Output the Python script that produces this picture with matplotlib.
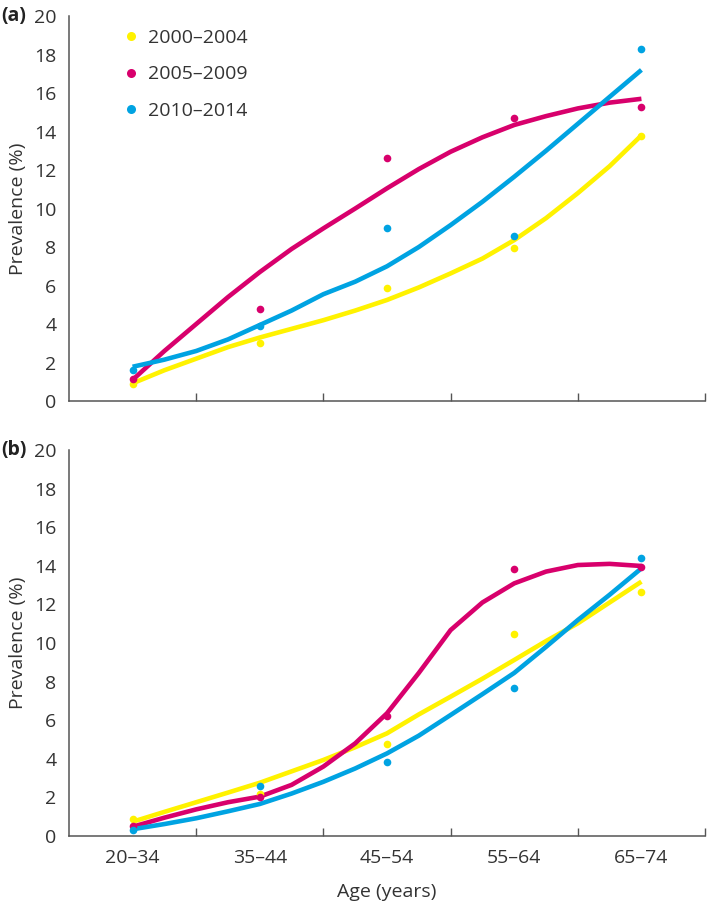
import matplotlib
matplotlib.use("Agg")
import matplotlib.pyplot as plt
from matplotlib.lines import Line2D

plt.rcParams['font.family'] = ['Open Sans', 'DejaVu Sans']

age_groups = ['20–34', '35–44', '45–54', '55–64', '65–74']
periods = ['2000–2004', '2005–2009', '2010–2014']
colors = ['#FFF200', '#D8006C', '#00A3E2']

# observed prevalence (%) per age group
a_pts_2000 = [0.87, 3.0, 5.85, 7.96, 13.78]
a_pts_2005 = [1.16, 4.8, 12.6, 14.7, 15.29]
a_pts_2010 = [1.6, 3.9, 8.97, 8.59, 18.27]
b_pts_2000 = [0.86, 2.2, 4.75, 10.45, 12.63]
b_pts_2005 = [0.52, 2.0, 6.2, 13.82, 13.95]
b_pts_2010 = [0.31, 2.59, 3.85, 7.69, 14.39]

curve_x = [0, 0.25, 0.5, 0.75, 1, 1.25, 1.5, 1.75, 2,
           2.25, 2.5, 2.75, 3, 3.25, 3.5, 3.75, 4]
a_curve_2000 = [0.92, 1.6, 2.2, 2.8, 3.3, 3.75, 4.2, 4.7, 5.25,
                5.9, 6.63, 7.4, 8.36, 9.5, 10.8, 12.2, 13.8]
a_curve_2005 = [1.1, 2.6, 4.0, 5.4, 6.7, 7.9, 8.97, 10.0, 11.05,
                12.05, 12.95, 13.7, 14.34, 14.8, 15.2, 15.5, 15.7]
a_curve_2010 = [1.78, 2.15, 2.6, 3.2, 3.95, 4.7, 5.55, 6.2, 7.0,
                8.0, 9.14, 10.35, 11.65, 13.0, 14.4, 15.8, 17.2]
b_curve_2000 = [0.74, 1.25, 1.75, 2.25, 2.76, 3.35, 3.94, 4.6, 5.32,
                6.3, 7.22, 8.15, 9.12, 10.1, 11.02, 12.1, 13.18]
b_curve_2005 = [0.48, 0.95, 1.38, 1.75, 2.04, 2.65, 3.6, 4.8, 6.36,
                8.45, 10.67, 12.1, 13.09, 13.7, 14.04, 14.1, 13.99]
b_curve_2010 = [0.35, 0.62, 0.92, 1.28, 1.66, 2.2, 2.81, 3.5, 4.28,
                5.2, 6.27, 7.35, 8.45, 9.8, 11.19, 12.5, 13.87]

panels = [
    ('(a)', [a_pts_2000, a_pts_2005, a_pts_2010],
     [a_curve_2000, a_curve_2005, a_curve_2010]),
    ('(b)', [b_pts_2000, b_pts_2005, b_pts_2010],
     [b_curve_2000, b_curve_2005, b_curve_2010]),
]

text_col = '#333333'
spine_col = '#555555'
fs = 14

fig = plt.figure(figsize=(7.09, 9.10), dpi=100)
ax_a = fig.add_axes([0.0973, 0.5593, 0.8971, 0.4231])
ax_b = fig.add_axes([0.0973, 0.0813, 0.8971, 0.4242])

for ax, (tag, pts, curves) in zip([ax_a, ax_b], panels):
    xs = range(len(age_groups))
    for c, curve in zip(colors, curves):
        ax.plot(curve_x, curve, color=c, lw=3.3, solid_capstyle='butt', zorder=2)
    for c, p in zip(colors, pts):
        ax.plot(xs, p, 'o', color=c, ms=5.5, mec='none', zorder=3)

    ax.set_xlim(-0.5, 4.5)
    ax.set_ylim(0, 20)
    ax.set_yticks(range(0, 21, 2))
    ax.tick_params(axis='y', length=0, pad=9, labelsize=fs, labelcolor=text_col)
    ax.set_xticks(range(5))
    ax.set_xticks([0.5, 1.5, 2.5, 3.5, 4.5], minor=True)
    ax.tick_params(axis='x', which='major', length=0, pad=9,
                   labelsize=fs, labelcolor=text_col)
    ax.tick_params(axis='x', which='minor', direction='in', length=6,
                   width=1, color=spine_col)
    for s in ['top', 'right']:
        ax.spines[s].set_visible(False)
    for s in ['left', 'bottom']:
        ax.spines[s].set_color(spine_col)
        ax.spines[s].set_linewidth(1.1)
    ax.set_ylabel('Prevalence (%)', fontsize=fs, color=text_col, labelpad=5)
    top = ax.get_position().y1
    fig.text(0.002, top, tag, fontsize=14, fontweight='bold',
             color='#222222', ha='left', va='center')

ax_a.set_xticklabels([])
ax_b.set_xticklabels(age_groups)
ax_b.set_xlabel('Age (years)', fontsize=fs, color=text_col, labelpad=12)

handles = [Line2D([], [], ls='none', marker='o', color=c, ms=6.5, mec='none')
           for c in colors]
ax_a.legend(handles, periods, loc='upper left', bbox_to_anchor=(0.058, 1.012),
            frameon=False, fontsize=fs, handlelength=0.8, handletextpad=0.45,
            labelspacing=0.95, labelcolor=text_col)

fig.savefig('out.png', dpi=100)
